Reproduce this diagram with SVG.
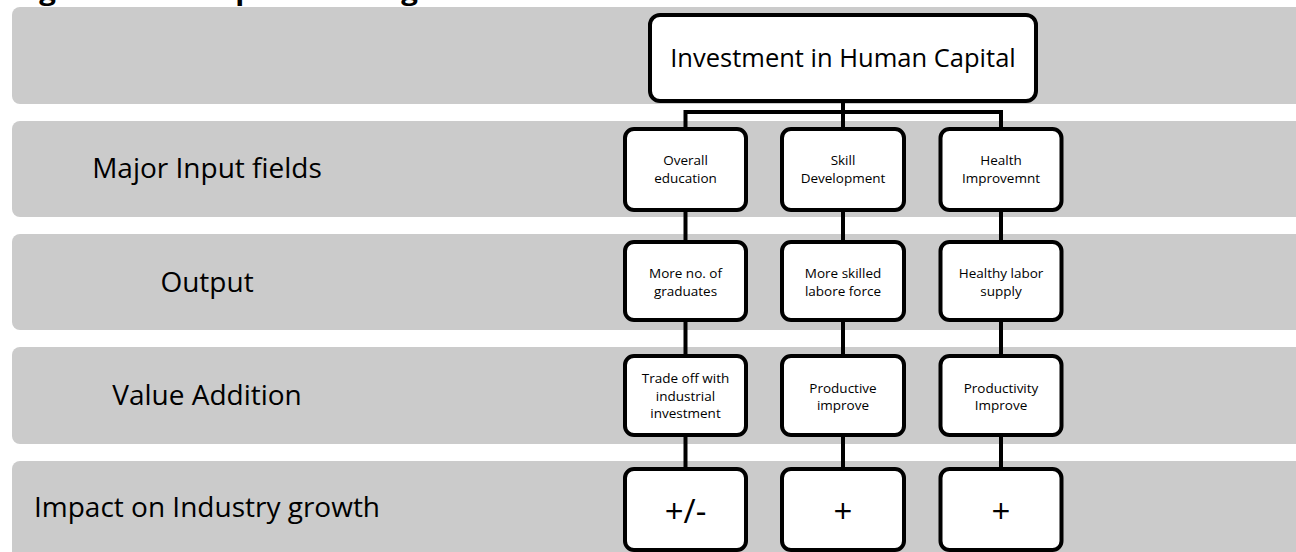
<svg xmlns="http://www.w3.org/2000/svg" width="1296" height="552" viewBox="0 0 1296 552">
<style>
.band{fill:#cbcbcb;}
.lbl{font-family:"Open Sans","Liberation Sans",sans-serif;font-size:28px;fill:#000;text-anchor:middle;}
.box{fill:#fff;stroke:#000;stroke-width:4;}
.bt{font-family:"Open Sans","Liberation Sans",sans-serif;font-size:13.5px;fill:#000;text-anchor:middle;}
.big{font-family:"Open Sans","Liberation Sans",sans-serif;font-size:33px;fill:#000;text-anchor:middle;}
.conn{stroke:#000;stroke-width:4;fill:none;}
</style>
<rect width="1296" height="552" fill="#fff"/>
<text x="14" y="0" font-family="Open Sans, Liberation Sans, sans-serif" font-weight="bold" font-size="26" textLength="436" lengthAdjust="spacingAndGlyphs">Figure 1: Conceptual Linkages</text>
<g id="bands">
<rect class="band" x="12" y="7" width="1300" height="97" rx="8"/>
<rect class="band" x="12" y="121" width="1300" height="96" rx="8"/>
<rect class="band" x="12" y="234" width="1300" height="96" rx="8"/>
<rect class="band" x="12" y="347" width="1300" height="97" rx="8"/>
<rect class="band" x="12" y="461" width="1300" height="100" rx="8"/>
</g>
<g id="labels">
<text class="lbl" x="207" y="178">Major Input fields</text>
<text class="lbl" x="207" y="292">Output</text>
<text class="lbl" x="207" y="405">Value Addition</text>
<text class="lbl" x="207" y="517">Impact on Industry growth</text>
</g>
<g id="connectors">
<line class="conn" x1="843" y1="101" x2="843" y2="112"/>
<polyline class="conn" points="685.5,129 685.5,112 1001,112 1001,129"/>
<line class="conn" x1="843" y1="112" x2="843" y2="129"/>
<line class="conn" x1="685.5" y1="210" x2="685.5" y2="242"/>
<line class="conn" x1="843" y1="210" x2="843" y2="242"/>
<line class="conn" x1="1001" y1="210" x2="1001" y2="242"/>
<line class="conn" x1="685.5" y1="320" x2="685.5" y2="356"/>
<line class="conn" x1="843" y1="320" x2="843" y2="356"/>
<line class="conn" x1="1001" y1="320" x2="1001" y2="356"/>
<line class="conn" x1="685.5" y1="435" x2="685.5" y2="469"/>
<line class="conn" x1="843" y1="435" x2="843" y2="469"/>
<line class="conn" x1="1001" y1="435" x2="1001" y2="469"/>
</g>
<g id="top">
<rect class="box" x="650" y="15" width="386" height="86" rx="10"/>
<text x="843" y="67" font-family="Open Sans, Liberation Sans, sans-serif" font-size="25.5" text-anchor="middle">Investment in Human Capital</text>
</g>
<g id="in1"><rect class="box" x="625" y="129" width="121" height="81" rx="9"/><text class="bt" x="685.5" y="165">Overall</text><text class="bt" x="685.5" y="183">education</text></g>
<g id="in2"><rect class="box" x="782" y="129" width="122" height="81" rx="9"/><text class="bt" x="843" y="165">Skill</text><text class="bt" x="843" y="183">Development</text></g>
<g id="in3"><rect class="box" x="940.5" y="129" width="121" height="81" rx="9"/><text class="bt" x="1001" y="165">Health</text><text class="bt" x="1001" y="183">Improvemnt</text></g>
<g id="out1"><rect class="box" x="625" y="242" width="121" height="78" rx="9"/><text class="bt" x="685.5" y="278">More no. of</text><text class="bt" x="685.5" y="296">graduates</text></g>
<g id="out2"><rect class="box" x="782" y="242" width="122" height="78" rx="9"/><text class="bt" x="843" y="278">More skilled</text><text class="bt" x="843" y="296">labore force</text></g>
<g id="out3"><rect class="box" x="940.5" y="242" width="121" height="78" rx="9"/><text class="bt" x="1001" y="278">Healthy labor</text><text class="bt" x="1001" y="296">supply</text></g>
<g id="va1"><rect class="box" x="625" y="356" width="121" height="79" rx="9"/><text class="bt" x="685.5" y="383">Trade off with</text><text class="bt" x="685.5" y="401">industrial</text><text class="bt" x="685.5" y="418">investment</text></g>
<g id="va2"><rect class="box" x="782" y="356" width="122" height="79" rx="9"/><text class="bt" x="843" y="393">Productive</text><text class="bt" x="843" y="410">improve</text></g>
<g id="va3"><rect class="box" x="940.5" y="356" width="121" height="79" rx="9"/><text class="bt" x="1001" y="393">Productivity</text><text class="bt" x="1001" y="410">Improve</text></g>
<g id="im1"><rect class="box" x="625" y="469" width="121" height="81" rx="9"/><text class="big" x="685.5" y="523">+/-</text></g>
<g id="im2"><rect class="box" x="782" y="469" width="122" height="81" rx="9"/><text class="big" x="843" y="523">+</text></g>
<g id="im3"><rect class="box" x="940.5" y="469" width="121" height="81" rx="9"/><text class="big" x="1001" y="523">+</text></g>
</svg>
